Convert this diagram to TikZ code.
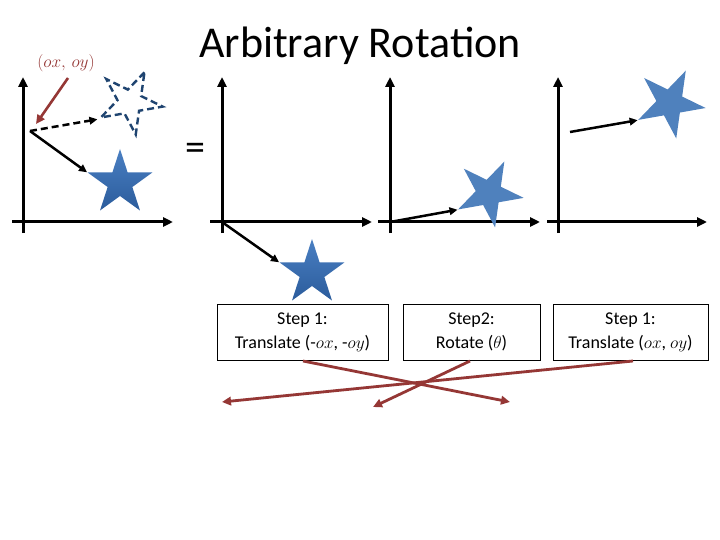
\documentclass[tikz,border=0pt]{standalone}
\usepackage{fontspec}
\setmainfont{Carlito}
\usetikzlibrary{shapes.geometric,arrows.meta}
\definecolor{redbrown}{HTML}{953735}
\definecolor{starblue}{HTML}{4F81BD}
\definecolor{startop}{HTML}{4A7FC2}
\definecolor{starbot}{HTML}{2B5C9C}
\definecolor{dashblue}{HTML}{1F4470}
\tikzset{
  axis/.style={line width=3pt,-{Triangle[length=10pt,width=9pt]}},
  vec/.style={line width=2.5pt,-{Triangle[length=8pt,width=7.5pt]}},
  redarrow/.style={draw=redbrown,line width=2.8pt,-{Triangle[length=9pt,width=8.5pt]}},
  starbase/.style={star,star points=5,star point ratio=2.618,inner sep=0pt,minimum size=68pt},
  gradstar/.style={starbase,draw=none,top color=startop,bottom color=starbot},
  flatstar/.style={starbase,draw=none,fill=starblue,minimum size=72pt,rotate=-26},
  dashstar/.style={starbase,draw=dashblue,dashed,dash pattern=on 7pt off 4pt,line width=2.4pt,minimum size=66pt,rotate=-26},
  stepbox/.style={draw=black,line width=0.8pt,align=center,font=\fontsize{18}{24}\selectfont,minimum height=56pt,inner sep=2pt}
}
\begin{document}
\begin{tikzpicture}[x=1pt,y=-1pt]
\useasboundingbox[fill=white] (0,0) rectangle (720,540);
% title
\node (title) at (360,46) {\fontsize{44}{48}\selectfont Arbitrary Rotation};
\node (eq) at (195,152) {\fontsize{40}{44}\selectfont =};
% panel 1
\draw[axis] (23,233) -- (23,77);
\draw[axis] (12,222) -- (173,222);
\coordinate (p1) at (30,131);
\node[gradstar] (s1) at (120,183) {};
\node[dashstar] (d1) at (130,102) {};
\draw[vec] (p1) -- (s1.outer point 2);
\draw[vec,dashed,dash pattern=on 7pt off 4pt] (p1) -- (d1.outer point 3);
\node[text=redbrown] (lab) at (66,63) {\fontsize{17}{20}\selectfont $(ox,\,oy)$};
\coordinate (lt) at (68,78);
\draw[line width=2.6pt,draw=redbrown,-{Triangle[length=9pt,width=8.5pt]}] (lt) -- (36,124);
% panel 2
\coordinate (o2) at (222,222);
\draw[axis] (222,233) -- (222,77);
\draw[axis] (210,222) -- (372,222);
\node[gradstar] (s2) at (312,273) {};
\draw[vec] (o2) -- (s2.outer point 2);
% panel 3
\coordinate (o3) at (390,222);
\draw[axis] (390,233) -- (390,77);
\draw[axis] (378,222) -- (540,222);
\node[flatstar,minimum size=70pt] (s3) at (489,193) {};
\draw[vec] (o3) -- (s3.outer point 3);
% panel 4
\draw[axis] (558,233) -- (558,77);
\draw[axis] (547,222) -- (707,222);
\coordinate (p4) at (570,132);
\node[flatstar] (s4) at (670,103) {};
\draw[vec] (p4) -- (s4.outer point 3);
% boxes
\node[stepbox,minimum width=171pt] (b1) at (302.5,332) {Step 1:\\Translate (-$ox$, -$oy$)};
\node[stepbox,minimum width=137pt] (b2) at (471.5,332) {Step2:\\Rotate ($\theta$)};
\node[stepbox,minimum width=155pt] (b3) at (630.5,332) {Step 1:\\Translate ($ox$, $oy$)};
% red arrows
\coordinate (r1) at (303,361);
\coordinate (r2) at (470,361);
\coordinate (r3) at (633,361);
\coordinate (e1) at (510,402);
\coordinate (e2) at (373,407);
\coordinate (e3) at (222,402);
\draw[redarrow] (r1) -- (e1);
\draw[redarrow] (r2) -- (e2);
\draw[redarrow] (r3) -- (e3);
\end{tikzpicture}
\end{document}
